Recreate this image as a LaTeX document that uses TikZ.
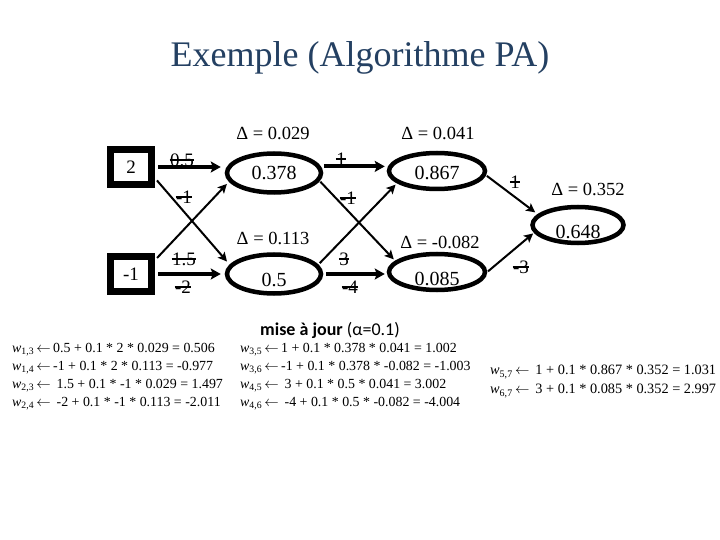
\documentclass[tikz,border=0pt]{standalone}
\usepackage{fontspec}
\setmainfont{Liberation Serif}
\newfontfamily\calib{Carlito}
\usetikzlibrary{arrows.meta,shapes.geometric}
\definecolor{titleblue}{RGB}{36,64,98}
\newcommand\wij[2]{\textit{w}\textsubscript{#1,#2}}
\newcommand\larr{\,$\leftarrow$\,}
\newcommand\lowr[2]{\raisebox{-#1}[\height][0pt]{#2}}
\tikzset{
  inbox/.style={draw, line width=7pt, minimum width=41pt, minimum height=35pt, inner sep=0pt, font=\fontsize{19}{21}\selectfont},
  neuron/.style={draw, ellipse, line width=4.5pt, minimum width=94pt, minimum height=39pt, inner sep=0pt, text depth=0pt, font=\fontsize{20}{22}\selectfont},
  deltalab/.style={font=\fontsize{18.5}{20}\selectfont, inner sep=0pt},
  wlab/.style={font=\fontsize{19}{21}\selectfont, inner sep=0.5pt, text depth=0pt,
    path picture={\draw[line width=1.3pt] (path picture bounding box.west) -- (path picture bounding box.east);}},
  thick arrow/.style={line width=4pt, -{Stealth[length=10pt,width=11pt,inset=2pt]}},
  thin arrow/.style={line width=2pt, -{Stealth[length=9pt,width=9pt,inset=2pt]}},
  formula/.style={font=\fontsize{13.9}{16}\selectfont, anchor=west, inner sep=0pt},
  formulabig/.style={formula, font=\fontsize{14.3}{16}\selectfont},
}
\begin{document}
\begin{tikzpicture}[x=1pt,y=-1pt]
\useasboundingbox[fill=white] (0,0) rectangle (720,540);
% title
\node[font=\fontsize{36}{40}\selectfont, text=titleblue, anchor=base] (title) at (360,67) {Exemple (Algorithme PA)};
% inputs
\node[inbox] (in1) at (131,167) {2};
\node[inbox] (in2) at (131,274) {-1};
% hidden layer 1
\node[neuron] (h1) at (274,173) {0.378};
\node[neuron] (h2) at (274,274) {\lowr{6pt}{0.5}};
% hidden layer 2
\node[neuron, minimum width=96pt, minimum height=36pt] (o1) at (437,171) {\lowr{2pt}{0.867}};
\node[neuron, minimum width=96pt, minimum height=36pt] (o2) at (437,272) {\lowr{7pt}{0.085}};
% output
\node[neuron, minimum width=91pt, minimum height=36pt] (out) at (578,225) {\lowr{7pt}{0.648}};
% deltas
\node[deltalab] (d1) at (273,133) {Δ = 0.029};
\node[deltalab] (d2) at (273,238) {Δ = 0.113};
\node[deltalab] (d3) at (438,133) {Δ = 0.041};
\node[deltalab] (d4) at (440,242) {Δ = -0.082};
\node[deltalab] (d5) at (588,189) {Δ = 0.352};
% layer 1 connectors
\draw[thick arrow, shorten <=3pt, shorten >=4pt] (in1.east) -- (in1.east -| h1.west);
\draw[thick arrow, shorten <=3pt, shorten >=4pt] (in2.east) -- (in2.east -| h2.west);
\draw[thin arrow, shorten <=3pt, shorten >=4pt] (in1.-25) -- (h2.168);
\draw[thin arrow, shorten <=3pt, shorten >=3pt] (in2.30) -- (h1.191);
% layer 2 connectors
\draw[thick arrow, shorten <=3pt, shorten >=2pt] (h1.8) -- (h1.8 -| o1.west);
\draw[thick arrow, shorten <=3pt, shorten >=2pt] (h2.east) -- (h2.east -| o2.west);
\draw[thin arrow, shorten <=1pt, shorten >=2pt] (h1.-10) -- (o2.165);
\draw[thin arrow, shorten <=2pt, shorten >=2pt] (h2.12) -- (o1.197);
% layer 3 connectors
\draw[thin arrow, shorten <=1pt, shorten >=3pt] (o1.-5) -- (out.165);
\draw[thin arrow, shorten <=1pt, shorten >=1pt] (o2.east) -- (out.190);
% weight labels
\node[wlab] (w13) at (182,160) {0.5};
\node[wlab] (w14) at (184,197) {-1};
\node[wlab] (w23) at (184,259) {1.5};
\node[wlab] (w24) at (183,287) {-2};
\node[wlab] (w35) at (341,159) {1};
\node[wlab] (w36) at (348,198) {-1};
\node[wlab] (w45) at (344,259) {3};
\node[wlab] (w46) at (350,287) {-4};
\node[wlab] (w57) at (515,182) {1};
\node[wlab] (w67) at (521,267) {-3};
% update section
\node[font=\calib\fontsize{18}{20}\selectfont, inner sep=0pt] (maj) at (330,330) {\textbf{mise à jour} (α=0.1)};
\node[formula] (f1) at (12,350) {\wij{1}{3}\larr 0.5 + 0.1 * 2 * 0.029 = 0.506};
\node[formula] (f2) at (12,368) {\wij{1}{4}\larr -1 + 0.1 * 2 * 0.113 = -0.977};
\node[formula] (f3) at (12,386) {\wij{2}{3}\larr\ 1.5 + 0.1 * -1 * 0.029 = 1.497};
\node[formula] (f4) at (12,404) {\wij{2}{4}\larr\ -2 + 0.1 * -1 * 0.113 = -2.011};
\node[formula] (f5) at (240,350) {\wij{3}{5}\larr 1 + 0.1 * 0.378 * 0.041 = 1.002};
\node[formula] (f6) at (240,368) {\wij{3}{6}\larr -1 + 0.1 * 0.378 * -0.082 = -1.003};
\node[formula] (f7) at (240,386) {\wij{4}{5}\larr\ 3 + 0.1 * 0.5 * 0.041 = 3.002};
\node[formula] (f8) at (240,404) {\wij{4}{6}\larr\ -4 + 0.1 * 0.5 * -0.082 = -4.004};
\node[formulabig] (f9) at (490,372) {\wij{5}{7}\larr\ 1 + 0.1 * 0.867 * 0.352 = 1.031};
\node[formulabig] (f10) at (490,391) {\wij{6}{7}\larr\ 3 + 0.1 * 0.085 * 0.352 = 2.997};
\end{tikzpicture}
\end{document}
